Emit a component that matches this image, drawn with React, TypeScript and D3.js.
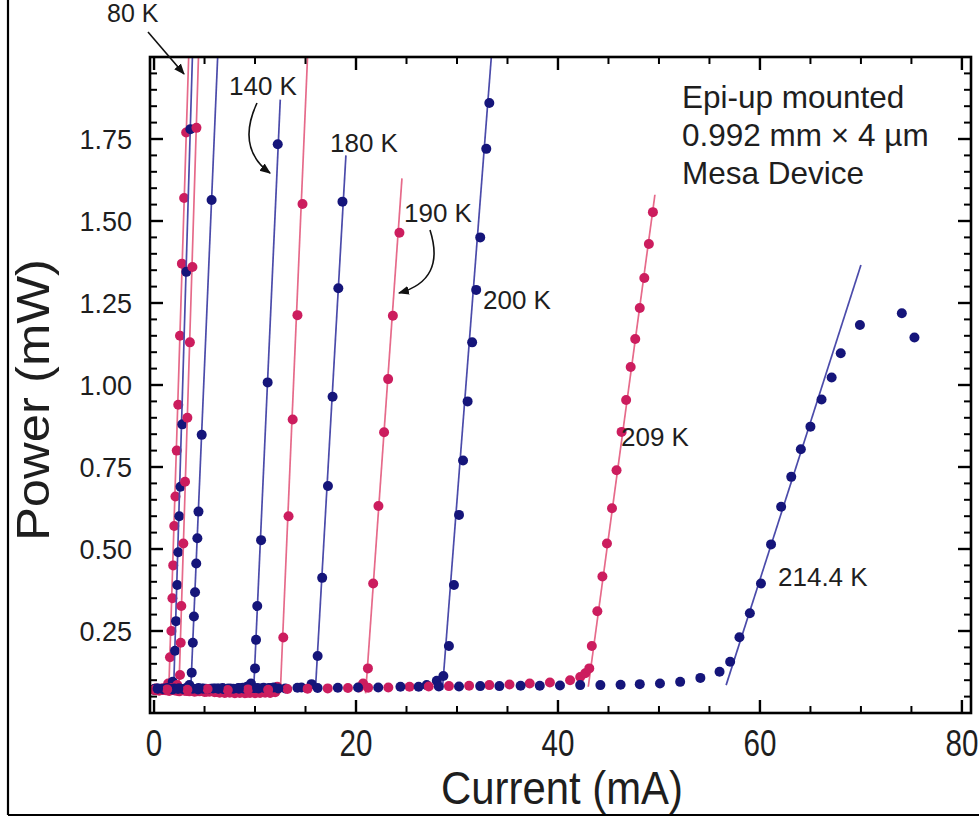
import React from 'react';
import * as d3 from 'd3';

type Pt = [number, number];

// ---------- axis ticks ----------
const xMajorTicks = [0, 20, 40, 60, 80];
const yMajorTicks = [0.25, 0.5, 0.75, 1.0, 1.25, 1.5, 1.75];
const yTickLabels = ['0.25', '0.50', '0.75', '1.00', '1.25', '1.50', '1.75'];

// ---------- series (current mA, power mW) ----------
// unlabeled low-temperature group + 80 K
const floorA: Pt[] = [[0.0,0.072],[0.2,0.075],[0.4,0.07],[0.6,0.073],[0.8,0.071],[1.0,0.074],[1.2,0.076],[1.4,0.09]];
const laseA: Pt[] = [[1.58,0.17],[1.72,0.25],[1.82,0.35],[1.9,0.45],[2.0,0.57],[2.12,0.66],[2.25,0.8],[2.4,0.94],[2.57,1.15],[2.76,1.37],[2.98,1.57],[3.18,1.77]];
const fitA: Pt[] = [[1.45,0.06],[3.43,2.0]];

const floorB: Pt[] = [[0.1,0.07],[0.35,0.073],[0.6,0.071],[0.85,0.074],[1.1,0.072],[1.35,0.075],[1.6,0.078],[1.85,0.095]];
const laseB: Pt[] = [[2.08,0.19],[2.18,0.28],[2.3,0.39],[2.4,0.49],[2.5,0.6],[2.62,0.69],[2.8,0.88],[3.2,1.345],[3.6,1.78]];
const fitB: Pt[] = [[1.93,0.06],[3.8,2.0]];

const floorC: Pt[] = [[0.05,0.074],[0.3,0.071],[0.55,0.073],[0.8,0.075],[1.05,0.07],[1.3,0.072],[1.55,0.074],[1.8,0.076],[2.05,0.078],[2.3,0.085]];
const laseC: Pt[] = [[2.57,0.116],[2.64,0.214],[2.7,0.326],[2.9,0.517],[3.07,0.705],[3.3,0.9],[3.55,1.13],[3.8,1.36],[4.2,1.784]];
const fitC: Pt[] = [[2.45,0.06],[4.4,2.0]];

const floorD: Pt[] = [[0.0,0.071],[0.25,0.074],[0.5,0.072],[0.75,0.07],[1.0,0.073],[1.25,0.075],[1.5,0.072],[1.75,0.074],[2.0,0.071],[2.25,0.073],[2.5,0.075],[2.75,0.072],[3.0,0.074],[3.25,0.077],[3.5,0.085]];
const laseD: Pt[] = [[3.73,0.123],[3.84,0.214],[3.95,0.294],[4.06,0.368],[4.18,0.456],[4.29,0.533],[4.4,0.614],[4.72,0.848],[5.7,1.564]];
const fitD: Pt[] = [[3.62,0.06],[6.3,2.0]];

// 140 K
const floor140: Pt[] = [[0.0,0.072],[0.4,0.07],[0.8,0.074],[1.2,0.071],[1.6,0.073],[2.0,0.075],[2.4,0.072],[2.8,0.07],[3.2,0.074],[3.6,0.072],[4.0,0.071],[4.4,0.073],[4.8,0.075],[5.2,0.072],[5.6,0.074],[6.0,0.071],[6.4,0.073],[6.8,0.076],[7.2,0.072],[7.6,0.074],[8.0,0.073],[8.4,0.075],[8.8,0.077],[9.2,0.08],[9.6,0.09]];
const lase140: Pt[] = [[10.0,0.136],[10.1,0.223],[10.22,0.326],[10.6,0.527],[11.25,1.008],[12.25,1.734]];
const fit140: Pt[] = [[9.85,0.06],[12.5,1.87]];

// unlabeled (between 140 K and 180 K)
const floor160: Pt[] = [[0.2,0.07],[0.7,0.072],[1.2,0.069],[1.7,0.071],[2.2,0.068],[2.7,0.07],[3.2,0.067],[3.7,0.069],[4.2,0.066],[4.7,0.068],[5.2,0.065],[5.7,0.067],[6.2,0.064],[6.7,0.066],[7.2,0.063],[7.7,0.065],[8.2,0.063],[8.7,0.064],[9.2,0.062],[9.7,0.064],[10.2,0.063],[10.7,0.065],[11.2,0.066],[11.7,0.07],[12.2,0.08]];
const lase160: Pt[] = [[12.8,0.23],[13.32,0.6],[13.73,0.895],[14.2,1.213],[14.7,1.552]];
const fit160: Pt[] = [[12.5,0.06],[15.2,2.0]];

// 180 K
const floor180: Pt[] = [[0.1,0.074],[0.6,0.072],[1.1,0.075],[1.6,0.073],[2.1,0.071],[2.6,0.074],[3.1,0.072],[3.6,0.075],[4.1,0.073],[4.6,0.071],[5.1,0.074],[5.6,0.072],[6.1,0.075],[6.6,0.073],[7.1,0.071],[7.6,0.074],[8.1,0.072],[8.6,0.075],[9.1,0.073],[9.6,0.074],[10.1,0.072],[10.6,0.075],[11.1,0.073],[11.6,0.076],[13.0,0.075],[14.6,0.078],[15.6,0.088]];
const lase180: Pt[] = [[16.2,0.174],[16.65,0.412],[17.22,0.692],[17.68,0.964],[18.25,1.295],[18.66,1.559]];
const fit180: Pt[] = [[15.98,0.07],[19.0,1.70]];

// 190 K
const floor190: Pt[] = [[0.0,0.07],[0.5,0.068],[1.0,0.07],[1.5,0.067],[2.0,0.069],[2.5,0.066],[3.0,0.068],[3.5,0.066],[4.0,0.065],[4.5,0.066],[5.0,0.064],[5.5,0.065],[6.0,0.063],[6.5,0.062],[7.0,0.061],[7.5,0.062],[8.0,0.06],[8.5,0.061],[9.0,0.06],[9.5,0.061],[10.0,0.06],[10.5,0.061],[11.0,0.062],[11.5,0.061],[12.0,0.063],[20.3,0.078],[20.7,0.09]];
const lase190: Pt[] = [[21.18,0.136],[21.7,0.395],[22.22,0.631],[22.78,0.856],[23.18,1.018],[23.65,1.211],[24.3,1.464]];
const fit190: Pt[] = [[20.95,0.06],[24.55,1.63]];

// 200 K
const floor200: Pt[] = [[0.35,0.074],[0.85,0.073],[1.35,0.075],[1.85,0.072],[2.35,0.074],[2.85,0.073],[3.35,0.075],[3.85,0.074],[4.35,0.072],[4.85,0.074],[5.35,0.073],[5.85,0.075],[6.35,0.074],[6.85,0.073],[7.35,0.075],[7.85,0.074],[8.35,0.076],[8.85,0.075],[9.35,0.074],[9.85,0.076],[10.35,0.075],[10.85,0.077],[11.35,0.076],[11.85,0.078],[27.0,0.085],[28.0,0.098]];
const lase200: Pt[] = [[28.65,0.113],[29.2,0.204],[29.7,0.39],[30.2,0.604],[30.6,0.77],[31.05,0.95],[31.5,1.13],[31.9,1.29],[32.3,1.45],[32.9,1.72],[33.2,1.86]];
const fit200: Pt[] = [[28.55,0.07],[33.4,2.0]];

// 209 K
const floor209: Pt[] = [[1.3,0.072],[3.3,0.071],[5.3,0.073],[7.3,0.07],[9.3,0.072],[11.3,0.071],[13.2,0.073],[15.2,0.074],[17.2,0.075],[19.2,0.076],[21.2,0.077],[23.2,0.078],[25.3,0.08],[27.2,0.081],[29.2,0.082],[31.2,0.083],[33.2,0.085],[35.2,0.087],[37.2,0.09],[39.2,0.093],[41.2,0.1],[42.2,0.11],[42.7,0.121],[43.1,0.136]];
const lase209: Pt[] = [[43.35,0.204],[43.9,0.31],[44.4,0.416],[44.85,0.517],[45.35,0.624],[45.8,0.74],[46.3,0.857],[46.75,0.954],[47.2,1.055],[47.65,1.14],[48.1,1.235],[48.55,1.326],[49.0,1.43],[49.4,1.527]];
const fit209: Pt[] = [[43.0,0.08],[49.6,1.58]];

// 214.4 K
const floor214: Pt[] = [[0.4,0.075],[2.4,0.074],[4.4,0.076],[6.4,0.075],[8.4,0.074],[10.2,0.076],[12.3,0.075],[14.2,0.077],[16.2,0.076],[18.2,0.077],[20.2,0.078],[22.2,0.078],[24.4,0.08],[26.2,0.08],[28.2,0.081],[30.2,0.081],[32.3,0.082],[34.2,0.082],[36.3,0.083],[38.2,0.083],[40.2,0.084],[42.2,0.085],[44.2,0.085],[46.2,0.086],[48.1,0.088],[50.1,0.09],[52.1,0.095],[54.1,0.107],[56.0,0.126]];
const lase214: Pt[] = [[57.05,0.156],[57.97,0.231],[59.0,0.304],[60.1,0.395],[61.1,0.514],[62.1,0.629],[63.1,0.72],[64.05,0.804],[65.0,0.873],[66.1,0.956],[67.1,1.023],[68.0,1.097],[69.9,1.183],[74.05,1.219],[75.3,1.145]];
const fit214: Pt[] = [[56.65,0.085],[70.0,1.366]];

const PINK = '#cc1d5e';
const NAVY = '#15157a';
const PINK_LINE = '#e66a8a';
const NAVY_LINE = '#4b4baa';

const series = [
  { c: PINK, lc: PINK_LINE, floor: floorA, lase: laseA, fit: fitA },
  { c: NAVY, lc: NAVY_LINE, floor: floorB, lase: laseB, fit: fitB },
  { c: PINK, lc: PINK_LINE, floor: floorC, lase: laseC, fit: fitC },
  { c: NAVY, lc: NAVY_LINE, floor: floorD, lase: laseD, fit: fitD },
  { c: NAVY, lc: NAVY_LINE, floor: floor140, lase: lase140, fit: fit140 },
  { c: PINK, lc: PINK_LINE, floor: floor160, lase: lase160, fit: fit160 },
  { c: NAVY, lc: NAVY_LINE, floor: floor180, lase: lase180, fit: fit180 },
  { c: PINK, lc: PINK_LINE, floor: floor190, lase: lase190, fit: fit190 },
  { c: NAVY, lc: NAVY_LINE, floor: floor200, lase: lase200, fit: fit200 },
  { c: PINK, lc: PINK_LINE, floor: floor209, lase: lase209, fit: fit209 },
  { c: NAVY, lc: NAVY_LINE, floor: floor214, lase: lase214, fit: fit214 },
];

const tempLabels = [
  { t: '80 K', x: 107, y: 22, fs: 25 },
  { t: '140 K', x: 229, y: 95, fs: 26 },
  { t: '180 K', x: 330, y: 152, fs: 26 },
  { t: '190 K', x: 404, y: 222, fs: 26 },
  { t: '200 K', x: 483, y: 309, fs: 26 },
  { t: '209 K', x: 621, y: 446, fs: 26 },
  { t: '214.4 K', x: 778, y: 586, fs: 26 },
];

const noteLines = ['Epi-up mounted', '0.992 mm \u00d7 4 \u00b5m', 'Mesa Device'];

export default function App() {
  const W = 979, H = 820;
  const L = 150, R = 971, T = 57, B = 713;
  const x = d3.scaleLinear().domain([-0.4, 80.9]).range([L, R]);
  const y = d3.scaleLinear().domain([0, 2.0]).range([B, T]);
  const line = d3.line<Pt>().x(d => x(d[0])).y(d => y(d[1]));

  const xMinor = d3.range(0, 81, 5).filter(v => v % 20 !== 0);
  const yMinor = d3.range(0, 41).map(i => i * 0.05).filter(v => Math.abs(v * 4 - Math.round(v * 4)) > 1e-6);

  const font = "'Liberation Sans', Arial, Helvetica, sans-serif";
  const txt = '#1e1e1e';
  const R0 = 5;

  return (
    <svg width={W} height={H} style={{ position: 'absolute', left: 0, top: 0, background: '#fff' }} fontFamily={font}>
      <defs>
        <clipPath id="plotclip"><rect x={L} y={T} width={R - L} height={B - T} /></clipPath>
        <marker id="arr" viewBox="0 0 10 10" refX="9" refY="5" markerWidth="11" markerHeight="11" markerUnits="userSpaceOnUse" orient="auto">
          <path d="M0,1 L10,5 L0,9 z" fill="#111" />
        </marker>
      </defs>
      <rect x={0} y={0} width={W} height={H} fill="#fff" />
      {/* outer figure border */}
      <line x1={8} y1={0} x2={8} y2={815} stroke="#000" strokeWidth={2.2} />
      <line x1={8} y1={815} x2={W} y2={815} stroke="#000" strokeWidth={2.2} />

      {/* data */}
      <g clipPath="url(#plotclip)">
        {series.map((s, i) => (
          <g key={i}>
            <path d={line(s.fit) || ''} stroke={s.lc} strokeWidth={1.7} fill="none" />
            {s.floor.map((p, j) => (
              <circle key={'f' + j} cx={x(p[0])} cy={y(p[1])} r={R0} fill={s.c} />
            ))}
            {s.lase.map((p, j) => (
              <circle key={'l' + j} cx={x(p[0])} cy={y(p[1])} r={R0} fill={s.c} />
            ))}
          </g>
        ))}
      </g>

      {/* frame */}
      <rect x={L} y={T} width={R - L} height={B - T} fill="none" stroke="#000" strokeWidth={2.6} />

      {/* x ticks bottom & top */}
      {xMajorTicks.map(v => (
        <g key={'xM' + v}>
          <line x1={x(v)} x2={x(v)} y1={B} y2={B - 13} stroke="#000" strokeWidth={2.4} />
          <line x1={x(v)} x2={x(v)} y1={T} y2={T + 13} stroke="#000" strokeWidth={2.4} />
        </g>
      ))}
      {xMinor.map(v => (
        <g key={'xm' + v}>
          <line x1={x(v)} x2={x(v)} y1={B} y2={B - 7} stroke="#000" strokeWidth={2} />
          <line x1={x(v)} x2={x(v)} y1={T} y2={T + 7} stroke="#000" strokeWidth={2} />
        </g>
      ))}
      {/* y ticks left & right */}
      {yMajorTicks.map(v => (
        <g key={'yM' + v}>
          <line x1={L} x2={L + 13} y1={y(v)} y2={y(v)} stroke="#000" strokeWidth={2.4} />
          <line x1={R} x2={R - 13} y1={y(v)} y2={y(v)} stroke="#000" strokeWidth={2.4} />
        </g>
      ))}
      {yMinor.map(v => (
        <g key={'ym' + v}>
          <line x1={L} x2={L + 7} y1={y(v)} y2={y(v)} stroke="#000" strokeWidth={2} />
          <line x1={R} x2={R - 7} y1={y(v)} y2={y(v)} stroke="#000" strokeWidth={2} />
        </g>
      ))}

      {/* tick labels */}
      {yMajorTicks.map((v, i) => (
        <text key={'yl' + v} x={132} y={y(v)} dy="0.36em" textAnchor="end" fontSize={27} fill={txt}>{yTickLabels[i]}</text>
      ))}
      {xMajorTicks.map(v => (
        <text key={'xl' + v} transform={`translate(${x(v)},${756}) scale(0.8,1)`} textAnchor="middle" fontSize={37} fill={txt}>{String(v)}</text>
      ))}

      {/* axis titles */}
      <text x={562} y={804} textAnchor="middle" fontSize={46} textLength={242} lengthAdjust="spacingAndGlyphs" fill={txt}>Current (mA)</text>
      <text transform={`translate(49,${400}) rotate(-90)`} textAnchor="middle" fontSize={46} textLength={282} lengthAdjust="spacingAndGlyphs" fill={txt}>Power (mW)</text>

      {/* annotation */}
      {noteLines.map((t, i) => (
        <text key={'n' + i} x={682} y={108 + i * 38} fontSize={31.5} fill={txt}>{t}</text>
      ))}

      {/* temperature labels */}
      {tempLabels.map(l => (
        <text key={l.t} x={l.x} y={l.y} fontSize={l.fs} fill={txt}>{l.t}</text>
      ))}

      {/* arrows */}
      <path d="M148,32 L184,74" stroke="#111" strokeWidth={1.6} fill="none" markerEnd="url(#arr)" />
      <path d="M257,103 Q236,148 270,173" stroke="#111" strokeWidth={1.6} fill="none" markerEnd="url(#arr)" />
      <path d="M430,230 Q446,280 399,293" stroke="#111" strokeWidth={1.6} fill="none" markerEnd="url(#arr)" />
    </svg>
  );
}
